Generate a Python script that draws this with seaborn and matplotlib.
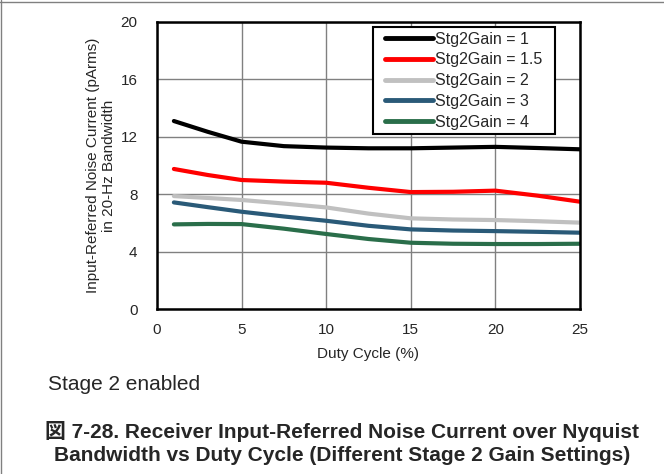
import matplotlib
matplotlib.use("Agg")
import matplotlib.pyplot as plt
import seaborn as sns
import pandas as pd
from matplotlib.lines import Line2D
from matplotlib.legend_handler import HandlerLine2D

duty = [1, 3, 5, 7.5, 10, 12.5, 15, 17.5, 20, 22.5, 25]
gain_1 = [13.1, 12.35, 11.66, 11.35, 11.25, 11.2, 11.2, 11.25, 11.3, 11.22, 11.13]
gain_1_5 = [9.76, 9.34, 8.99, 8.88, 8.8, 8.45, 8.15, 8.17, 8.25, 7.9, 7.48]
gain_2 = [7.87, 7.74, 7.6, 7.35, 7.08, 6.65, 6.32, 6.24, 6.2, 6.12, 6.02]
gain_3 = [7.43, 7.1, 6.78, 6.45, 6.15, 5.8, 5.55, 5.47, 5.43, 5.38, 5.32]
gain_4 = [5.9, 5.93, 5.92, 5.6, 5.23, 4.88, 4.62, 4.55, 4.53, 4.53, 4.55]
labels = ["Stg2Gain = 1", "Stg2Gain = 1.5", "Stg2Gain = 2", "Stg2Gain = 3", "Stg2Gain = 4"]
colors = ["#000000", "#ff0000", "#c0c0c0", "#2a5a78", "#2a6e4a"]
xticks = [0, 5, 10, 15, 20, 25]
yticks = [0, 4, 8, 12, 16, 20]

rows = []
for lab, vals in zip(labels, [gain_1, gain_1_5, gain_2, gain_3, gain_4]):
    for d, v in zip(duty, vals):
        rows.append({"Duty": d, "Noise": v, "Series": lab})
df = pd.DataFrame(rows)


class LeftPadHandler(HandlerLine2D):
    def get_xdata(self, legend, xdescent, ydescent, width, height, fontsize):
        x0 = -xdescent + 0.44 * fontsize
        x1 = -xdescent + width
        return [x0, x1], [(x0 + x1) / 2]


sns.set_style("white")
plt.rcParams["font.family"] = ["Liberation Sans", "Noto Sans CJK JP", "DejaVu Sans"]

fig = plt.figure(figsize=(6.64, 4.74), dpi=100)
ax = fig.add_axes([0.2364, 0.348, 0.637, 0.6056])

sns.lineplot(data=df, x="Duty", y="Noise", hue="Series", palette=colors,
             hue_order=labels, linewidth=3.0, ax=ax, legend=True)

ax.set_xlim(0, 25)
ax.set_ylim(0, 20)
ax.set_xticks(xticks)
ax.set_yticks(yticks)
ax.tick_params(axis="both", labelsize=11, length=0)
ax.tick_params(axis="x", pad=10)
ax.tick_params(axis="y", pad=14)
ax.grid(True, color="#808080", linewidth=1.0)
for s in ax.spines.values():
    s.set_visible(True)
    s.set_color("black")
    s.set_linewidth(1.8)

ax.set_xlabel("Duty Cycle (%)", fontsize=11, labelpad=7)
ax.set_ylabel("Input-Referred Noise Current (pArms)\nin 20-Hz Bandwidth", fontsize=11,
              labelpad=3, linespacing=1.2)

handles, hlabels = ax.get_legend_handles_labels()
leg = ax.legend(handles, hlabels, loc="upper left",
                bbox_to_anchor=(0.511, 0.613, 0.430, 0.37),
                mode="expand", fontsize=11.5,
                frameon=True, fancybox=False, borderpad=0.3, labelspacing=0.36,
                handlelength=3.45, handletextpad=0.12, borderaxespad=0.0,
                handler_map={Line2D: LeftPadHandler()})
leg.get_frame().set_edgecolor("black")
leg.get_frame().set_linewidth(1.5)
leg.get_frame().set_alpha(1)
for line in leg.get_lines():
    line.set_linewidth(3.5)

fig.text(0.072, 0.188, "Stage 2 enabled", fontsize=15, va="center", ha="left")
fig.text(0.515, 0.066,
         "図 7-28. Receiver Input-Referred Noise Current over Nyquist\nBandwidth vs Duty Cycle (Different Stage 2 Gain Settings)",
         fontsize=15, fontweight="bold", ha="center", va="center", linespacing=1.25)

fig.add_artist(plt.Line2D([0, 1], [0.996, 0.996], transform=fig.transFigure, color="#808080", linewidth=1))
fig.add_artist(plt.Line2D([0.001, 0.001], [0, 1], transform=fig.transFigure, color="#808080", linewidth=1))

fig.savefig("out.png", dpi=100)
